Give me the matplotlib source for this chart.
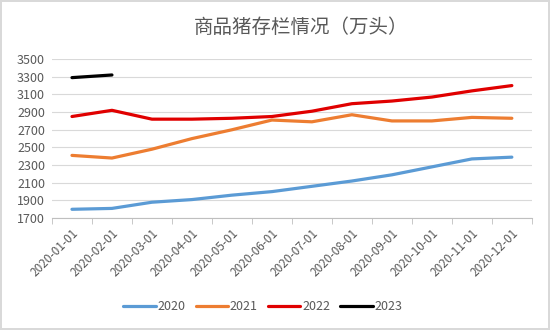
import matplotlib.pyplot as plt
from matplotlib.ticker import FixedLocator

plt.rcParams['font.family'] = ['Noto Sans CJK SC', 'DejaVu Sans']

months = ['2020-01-01', '2020-02-01', '2020-03-01', '2020-04-01', '2020-05-01', '2020-06-01',
          '2020-07-01', '2020-08-01', '2020-09-01', '2020-10-01', '2020-11-01', '2020-12-01']
y2020 = [1800, 1810, 1880, 1910, 1960, 2000, 2060, 2120, 2190, 2280, 2370, 2390]
y2021 = [2410, 2380, 2480, 2600, 2700, 2810, 2790, 2870, 2800, 2800, 2840, 2830]
y2022 = [2850, 2920, 2820, 2820, 2830, 2850, 2910, 2995, 3025, 3070, 3140, 3200]
y2023 = [3290, 3320]
yticks = [1700, 1900, 2100, 2300, 2500, 2700, 2900, 3100, 3300, 3500]

series = [('2020', y2020, '#5B9BD5'), ('2021', y2021, '#ED7D31'),
          ('2022', y2022, '#E00000'), ('2023', y2023, '#000000')]

fig = plt.figure(figsize=(5.5, 3.3), dpi=100)
fig.patch.set_edgecolor('#D9D9D9')
fig.patch.set_linewidth(1.5)
ax = fig.add_axes([0.0945, 0.339, 0.8725, 0.482])

for name, vals, col in series:
    ax.plot(range(len(vals)), vals, color=col, lw=2.3, label=name, solid_capstyle='round')

ax.set_xlim(-0.5, 11.5)
ax.set_ylim(1700, 3500)
ax.set_yticks(yticks)
ax.set_xticks(range(len(months)))
ax.set_xticklabels(months, rotation=45, ha='right', rotation_mode='anchor')
ax.xaxis.set_minor_locator(FixedLocator([i - 0.5 for i in range(len(months) + 1)]))
ax.tick_params(axis='x', which='major', length=0, pad=6, labelsize=8.5, colors='#595959')
ax.tick_params(axis='x', which='minor', length=4, color='#BFBFBF')
ax.tick_params(axis='y', length=0, labelsize=9, colors='#595959', pad=5)
ax.grid(axis='y', color='#D9D9D9', lw=0.8)
ax.set_axisbelow(True)
for s in ['top', 'right', 'left']:
    ax.spines[s].set_visible(False)
ax.spines['bottom'].set_color('#BFBFBF')

fig.text(0.547, 0.918, '商品猪存栏情况（万头）', ha='center', va='center',
         fontsize=14, color='#595959', fontweight='medium')

fig.legend(loc='center', bbox_to_anchor=(0.478, 0.07), ncol=4, frameon=False,
           fontsize=9, handlelength=2.6, handletextpad=0.15, columnspacing=0.8,
           labelcolor='#595959')

fig.savefig('out.png', dpi=100)
